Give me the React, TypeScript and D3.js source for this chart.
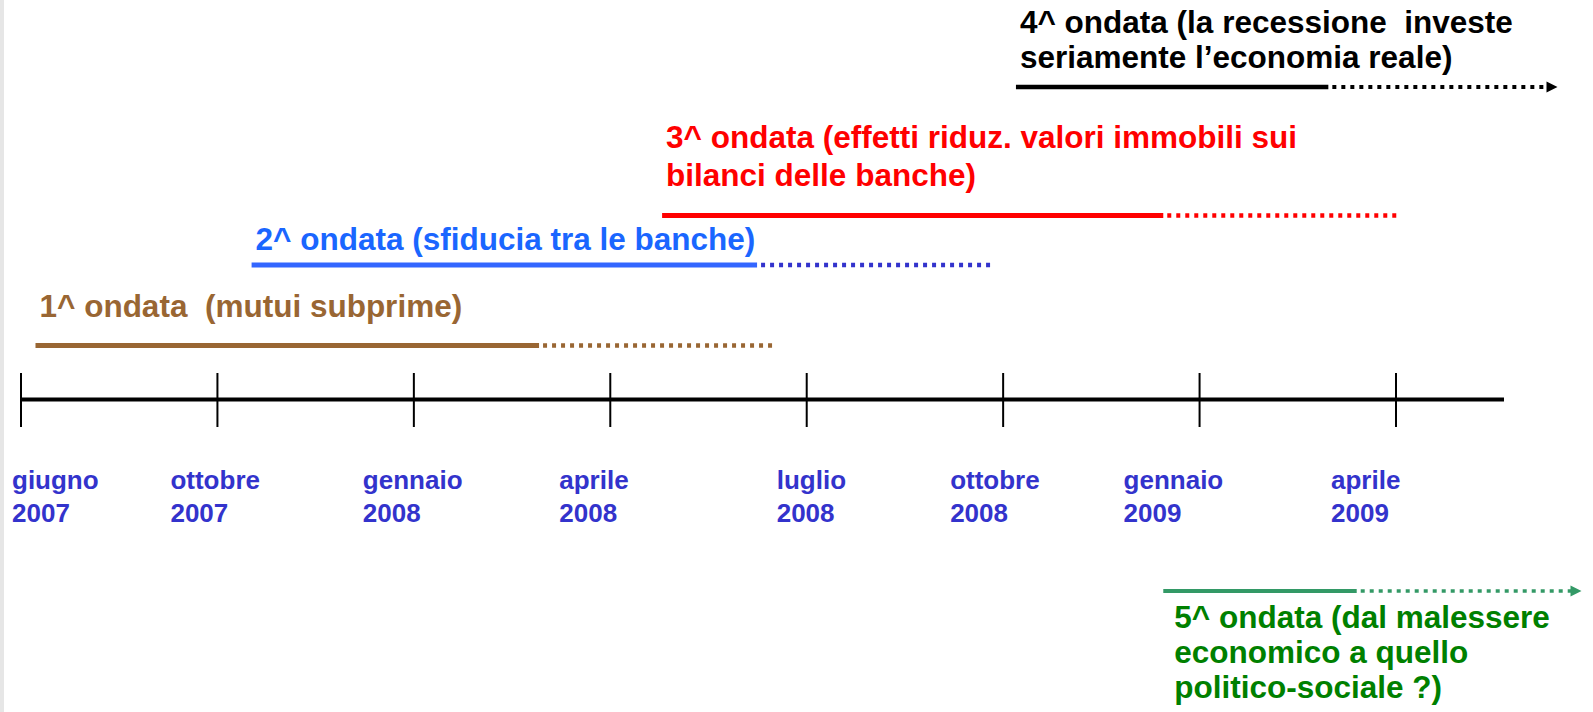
import React from 'react'
import * as d3 from 'd3'

// tick dates on the timeline (evenly spaced on the slide)
const tickDates = ['2007-06-01', '2007-10-01', '2008-01-01', '2008-04-01', '2008-07-01', '2008-10-01', '2009-01-01', '2009-04-01']
const tickMonths = ['giugno', 'ottobre', 'gennaio', 'aprile', 'luglio', 'ottobre', 'gennaio', 'aprile']
const tickYears = ['2007', '2007', '2008', '2008', '2008', '2008', '2009', '2009']

// the five waves of the crisis
const waveText = [
  ['1^ ondata  (mutui subprime)'],
  ['2^ ondata (sfiducia tra le banche)'],
  ['3^ ondata (effetti riduz. valori immobili sui', 'bilanci delle banche)'],
  ['4^ ondata (la recessione  investe', 'seriamente l\u2019economia reale)'],
  ['5^ ondata (dal malessere', 'economico a quello', 'politico-sociale ?)']
]
const waveStart = ['2007-06-10', '2007-10-17', '2008-04-25', '2008-10-07', '2008-12-15']
const waveSolidEnd = ['2008-02-28', '2008-06-08', '2008-12-15', '2009-03-01', '2009-03-14']
const waveDottedEnd = ['2008-06-17', '2008-09-26', '2009-04-02', '2009-06-14', '2009-06-25']
const waveArrow = [false, false, false, true, true]

// styles / layout
const textColor = ['#996633', '#1a66ff', '#ff0000', '#000000', '#008000']
const solidColor = ['#996633', '#3366ff', '#ff0000', '#000000', '#339966']
const dottedColor = ['#996633', '#3333cc', '#ff0000', '#000000', '#339966']
const lineY = [345.5, 265, 215.5, 87, 591]
const textY = [317, 250, 148, 33, 628]
const lineGap = [0, 0, 37.5, 35, 35]
const textDx = [4, 4, 4, 4, 11]
const lineW = [5, 5, 5, 4.5, 4]
const labelNudge = [-9, -47, -51, -51, -30, -53, -76, -65]

const W = 1593
const H = 712
const FONT = '"Liberation Sans", Arial, Helvetica, sans-serif'

export default function App() {
  const parse = d3.timeParse('%Y-%m-%d')
  const point = d3.scalePoint<string>().domain(tickDates).range([21, 1396])
  const x = d3.scaleTime()
    .domain(tickDates.map(d => parse(d) as Date))
    .range(tickDates.map(d => point(d) as number))
  const xd = (s: string) => x(parse(s) as Date)

  const axisY = 399.5

  return (
    <svg width={W} height={H} style={{ position: 'absolute', left: 0, top: 0, background: '#fff' }}
      fontFamily={FONT} fontWeight="bold">
      <rect x={0} y={0} width={W} height={H} fill="#fff" />
      <rect x={0} y={0} width={4} height={H} fill="#e6e6e6" />

      {/* timeline */}
      <line x1={21} x2={1504} y1={axisY} y2={axisY} stroke="#000" strokeWidth={4} />
      {tickDates.map((d, i) => (
        <g key={d}>
          <line x1={point(d)} x2={point(d)} y1={373} y2={427} stroke="#000" strokeWidth={2} />
          <text x={(point(d) as number) + labelNudge[i]} y={489} fontSize={26} fill="#3333cc">{tickMonths[i]}</text>
          <text x={(point(d) as number) + labelNudge[i]} y={522} fontSize={26} fill="#3333cc">{tickYears[i]}</text>
        </g>
      ))}

      {/* waves */}
      {waveText.map((lines, i) => {
        const x0 = xd(waveStart[i])
        const x1 = xd(waveSolidEnd[i])
        const tip = xd(waveDottedEnd[i])
        const x2 = waveArrow[i] ? tip - 10 : tip
        const y = lineY[i]
        return (
          <g key={i}>
            <line x1={x0} x2={x1} y1={y} y2={y} stroke={solidColor[i]} strokeWidth={lineW[i]} />
            <line x1={x1} x2={x2} y1={y} y2={y} stroke={dottedColor[i]} strokeWidth={lineW[i] - 0.5}
              strokeDasharray="4 5" strokeDashoffset={-4} />
            {waveArrow[i] && (
              <path d={`M${tip},${y} L${tip - 11},${y - 5.5} L${tip - 11},${y + 5.5} Z`} fill={dottedColor[i]} />
            )}
            <text fontSize={31.5} fill={textColor[i]} style={{ whiteSpace: 'pre' }}>
              {lines.map((t, j) => (
                <tspan key={j} x={x0 + textDx[i]} y={textY[i] + j * lineGap[i]}>{t}</tspan>
              ))}
            </text>
          </g>
        )
      })}
    </svg>
  )
}
